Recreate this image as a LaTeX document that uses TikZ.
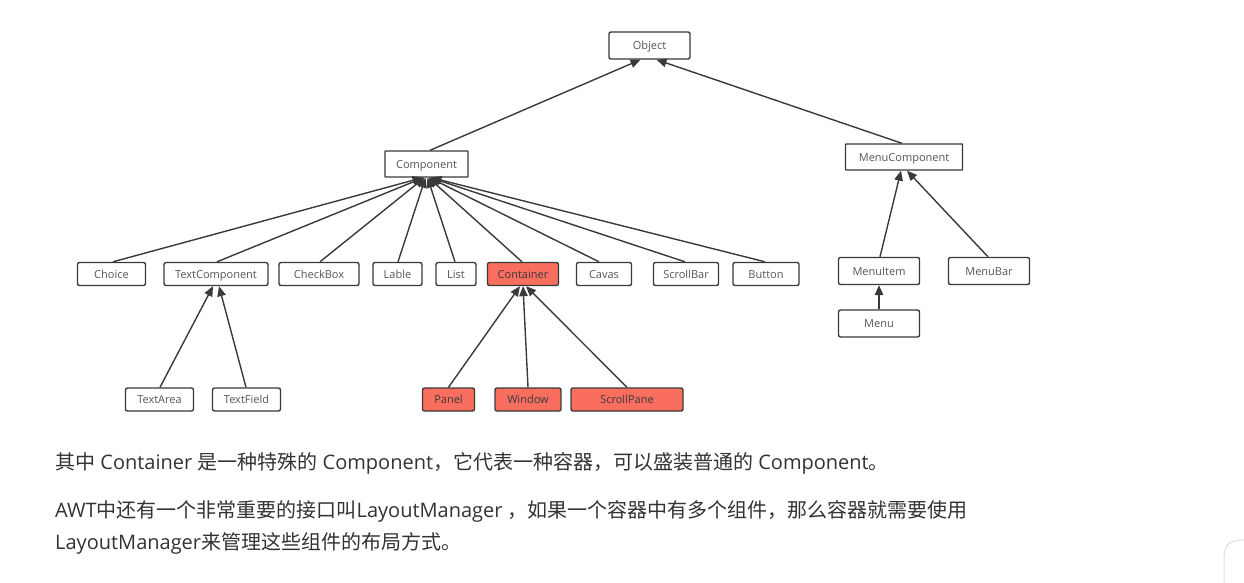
\documentclass[tikz,border=0pt]{standalone}
\usepackage{fontspec}
\setmainfont{Open Sans}
\newfontfamily\cjk{Noto Sans CJK SC}
\newcommand\zhtext[1]{{\cjk #1}}
\usetikzlibrary{arrows.meta}
\definecolor{edgec}{HTML}{3A3A3A}
\definecolor{boxtext}{HTML}{555555}
\definecolor{redfill}{HTML}{F96E5F}
\definecolor{bodytext}{HTML}{333333}
\tikzset{
  cls/.style={draw=edgec, line width=1.4pt, rounded corners=2pt, fill=white,
    inner sep=0pt, minimum height=23pt, text=boxtext, text height=9.5pt, text depth=1pt,
    font=\fontsize{11}{11}\selectfont},
  redcls/.style={cls, fill=redfill, text=edgec},
  arr/.style={draw=edgec, line width=1.4pt, -{Triangle[length=10pt,width=8.5pt]}},
  para/.style={anchor=west, inner sep=0pt, text=bodytext, font=\fontsize{20}{20}\selectfont}
}
\begin{document}
\begin{tikzpicture}[x=1pt,y=-1pt]
\useasboundingbox (0,0) rectangle (1244,583);
\fill[white] (0,0) rectangle (1244,583);
% top
\node[cls, minimum width=81pt, minimum height=27pt] (Object) at (649.5,45.5) {Object};
\node[cls, minimum width=83pt, minimum height=26pt, rounded corners=0.5pt] (Component) at (426.5,164) {Component};
\node[cls, minimum width=117pt, minimum height=26pt, rounded corners=0.5pt] (MenuComponent) at (904,157) {MenuComponent};
% row
\node[cls, minimum width=68pt] (Choice) at (111.5,274) {Choice};
\node[cls, minimum width=104pt] (TextComponent) at (216,274) {TextComponent};
\node[cls, minimum width=80pt] (CheckBox) at (319,274) {CheckBox};
\node[cls, minimum width=49pt] (Lable) at (397.5,274) {Lable};
\node[cls, minimum width=40pt] (List) at (456,274) {List};
\node[redcls, minimum width=71pt] (Container) at (523,274) {Container};
\node[cls, minimum width=55pt] (Cavas) at (604,274) {Cavas};
\node[cls, minimum width=65pt] (ScrollBar) at (686,274) {ScrollBar};
\node[cls, minimum width=66pt] (Button) at (766,274) {Button};
% bottom row
\node[cls, minimum width=68pt] (TextArea) at (159.5,399.5) {TextArea};
\node[cls, minimum width=68pt] (TextField) at (246.5,399.5) {TextField};
\node[redcls, minimum width=52pt] (Panel) at (448.5,399.5) {Panel};
\node[redcls, minimum width=66pt] (Window) at (528,399.5) {Window};
\node[redcls, minimum width=112pt] (ScrollPane) at (627,399.5) {ScrollPane};
% menu
\node[cls, minimum width=81pt, minimum height=27pt] (MenuItem) at (879,271) {MenuItem};
\node[cls, minimum width=81pt, minimum height=27pt] (MenuBar) at (989,271) {MenuBar};
\node[cls, minimum width=81pt, minimum height=27pt] (Menu) at (879,323.5) {Menu};
% edges to Object
\draw[arr] ([xshift=3.5pt]Component.north) -- ([xshift=-9pt]Object.south);
\draw[arr] ([xshift=-2pt]MenuComponent.north) -- ([xshift=7pt]Object.south);
% edges to Component
\draw[arr] ([xshift=1.5pt]Choice.north) -- ([xshift=-4pt]Component.south);
\draw[arr] ([xshift=1pt]TextComponent.north) -- ([xshift=-3pt]Component.south);
\draw[arr] ([xshift=1pt]CheckBox.north) -- ([xshift=-2pt]Component.south);
\draw[arr] ([xshift=0.5pt]Lable.north) -- ([xshift=-1pt]Component.south);
\draw[arr] ([xshift=-1pt]List.north) -- ([xshift=1pt]Component.south);
\draw[arr] ([xshift=-1pt]Container.north) -- ([xshift=2pt]Component.south);
\draw[arr] ([xshift=-5pt]Cavas.north) -- ([xshift=3pt]Component.south);
\draw[arr] ([xshift=-1pt]ScrollBar.north) -- ([xshift=4pt]Component.south);
\draw[arr] ([xshift=-1pt]Button.north) -- ([xshift=5pt]Component.south);
% TextComponent children
\draw[arr] ([xshift=0.5pt]TextArea.north) -- ([xshift=-3pt]TextComponent.south);
\draw[arr] ([xshift=-0.5pt]TextField.north) -- ([xshift=3pt]TextComponent.south);
% Container children
\draw[arr] (Panel.north) -- ([xshift=-3pt]Container.south);
\draw[arr] (Window.north) -- ([xshift=0pt]Container.south);
\draw[arr] (ScrollPane.north) -- ([xshift=3pt]Container.south);
% Menu edges
\draw[arr] ([xshift=1pt]MenuItem.north) -- ([xshift=-3pt]MenuComponent.south);
\draw[arr] ([xshift=-1pt]MenuBar.north) -- ([xshift=3pt]MenuComponent.south);
\draw[arr] (Menu.north) -- (MenuItem.south);
% text
\node[para] (p1) at (55,463) {\zhtext{其中} Container \zhtext{是一种特殊的} Component\zhtext{，它代表一种容器，可以盛装普通的} Component\zhtext{。}};
\node[para] (p2) at (55,511) {AWT\zhtext{中还有一个非常重要的接口叫}LayoutManager \zhtext{，如果一个容器中有多个组件，那么容器就需要使用}};
\node[para] (p3) at (55,543) {LayoutManager\zhtext{来管理这些组件的布局方式。}};
% faint corner shape
\draw[gray!25, line width=1pt, rounded corners=8pt] (1260,540) -- (1232,540) -- (1224,548) -- (1224,600);
\end{tikzpicture}
\end{document}
